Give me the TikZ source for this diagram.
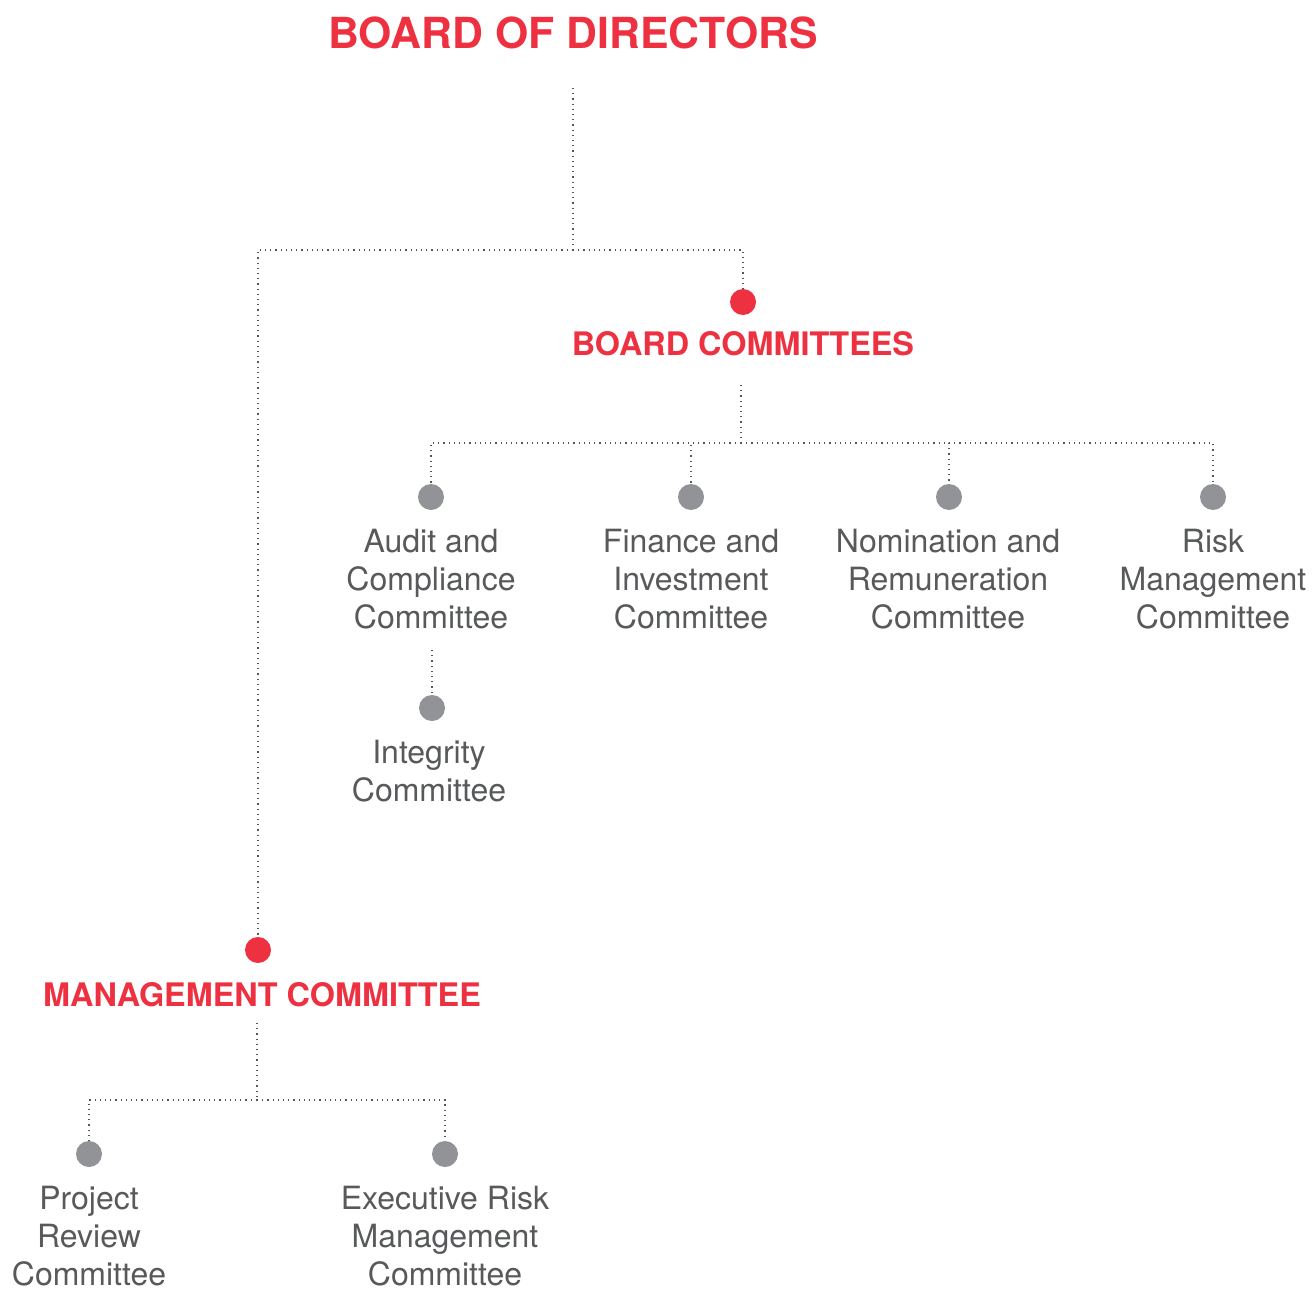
\documentclass[tikz,border=0pt]{standalone}
\usepackage{fontspec}
\setmainfont{TeX Gyre Heros}
\usetikzlibrary{positioning}

\definecolor{boardred}{HTML}{EE3140}
\definecolor{dotgray}{HTML}{929396}
\definecolor{textgray}{HTML}{58595B}
\definecolor{linegray}{HTML}{555555}

\begin{document}
\begin{tikzpicture}[x=0.5pt,y=-0.5pt,
    head node/.style={text=boardred,font=\bfseries\fontsize{16.2}{19}\selectfont,inner sep=0pt},
    red dot/.style={circle,fill=boardred,minimum size=13pt,inner sep=0pt},
    gray dot/.style={circle,fill=dotgray,minimum size=13pt,inner sep=0pt},
    sub node/.style={text=textgray,align=center,font=\fontsize{16}{19}\selectfont,inner sep=0pt},
    link/.style={draw=linegray,dotted,line width=0.6pt}]

    \useasboundingbox (0,0) rectangle (1314,1290);

    % top level
    \node[text=boardred,font=\bfseries\fontsize{21.4}{24}\selectfont,inner sep=0pt] (bod) at (573,33) {BOARD OF DIRECTORS};
    \coordinate (bodout) at (573,88);
    \coordinate (split) at (573,250);

    \node[red dot] (bcdot) at (743,302) {};
    \node[head node] (bc) at (743,344) {BOARD COMMITTEES};
    \node[red dot] (mcdot) at (258,950) {};
    \node[head node] (mc) at (262,995) {MANAGEMENT COMMITTEE};

    \path[link] (bodout) -- (split);
    \path[link] (split) -| (bcdot.north);
    \path[link] (split) -| (mcdot.north);

    % board committees
    \coordinate (bcout) at (741,385);
    \coordinate (bcbar) at (741,443);

    \node[gray dot] (d1) at (431,497) {};
    \node[gray dot] (d2) at (691,497) {};
    \node[gray dot] (d3) at (949,497) {};
    \node[gray dot] (d4) at (1213,497) {};

    \node[sub node] (audit) at (431,579) {Audit and\\Compliance\\Committee};
    \node[sub node] (fin) at (691,579) {Finance and\\Investment\\Committee};
    \node[sub node] (nom) at (948,579) {Nomination and\\Remuneration\\Committee};
    \node[sub node] (risk) at (1213,579) {Risk\\Management\\Committee};

    \path[link] (bcout) -- (bcbar);
    \foreach \d in {d1,d2,d3,d4}
        \path[link] (bcbar) -| (\d.north);

    \coordinate (auditout) at (432,650);
    \node[gray dot] (d5) at (432,708) {};
    \node[sub node] (integ) at (429,771) {Integrity\\Committee};
    \path[link] (auditout) -- (d5.north);

    % management committee
    \coordinate (mcout) at (257,1023);
    \coordinate (mcbar) at (257,1100);

    \node[gray dot] (d6) at (89,1154) {};
    \node[gray dot] (d7) at (445,1154) {};

    \node[sub node] (proj) at (89,1236) {Project\\Review\\Committee};
    \node[sub node] (exec) at (445,1236) {Executive Risk\\Management\\Committee};

    \path[link] (mcout) -- (mcbar);
    \path[link] (mcbar) -| (d6.north);
    \path[link] (mcbar) -| (d7.north);
\end{tikzpicture}
\end{document}
